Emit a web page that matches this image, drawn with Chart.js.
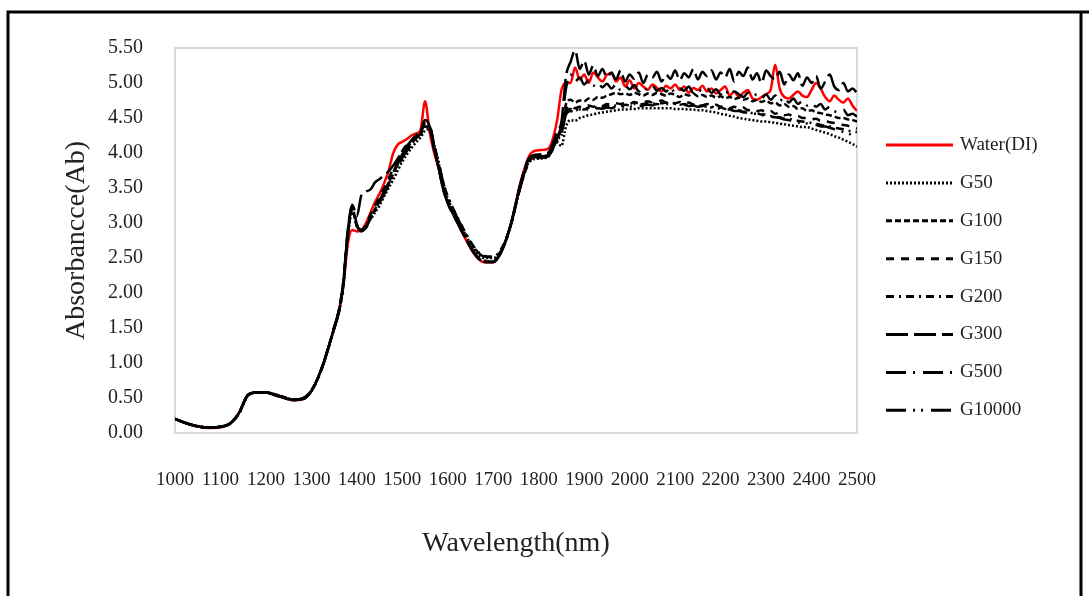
<!DOCTYPE html>
<html>
<head>
<meta charset="utf-8">
<script src="https://cdn.jsdelivr.net/npm/chart.js@4.4.1/dist/chart.umd.min.js"></script>
<style>
html, body { margin: 0; padding: 0; background: #fff; }
#wrap { width: 1089px; height: 596px; }
</style>
</head>
<body>
<div id="wrap"><canvas id="absorbance-chart" width="1089" height="596"></canvas></div>
<script>
// wavelength grid (nm)
const wavelength = [
	1000, 1020, 1040, 1060, 1080, 1100, 1120, 1140, 1160, 1180, 1200, 1220, 1240, 1260, 1280, 1300, 1320, 1340,
	1350, 1360, 1370, 1380, 1390, 1400, 1410, 1420, 1430, 1440, 1450, 1460, 1470, 1480, 1490, 1500, 1510, 1520, 1530, 1540, 1550, 1560, 1570, 1580, 1590, 1600,
	1620, 1640, 1660, 1680, 1700, 1720, 1740, 1760, 1780, 1800, 1820, 1840,
	1850, 1860, 1870, 1880, 1890, 1900, 1910, 1920, 1930, 1940, 1950,
	1960, 1970, 1980, 1990, 2000, 2010, 2020, 2030, 2040, 2050, 2060,
	2070, 2080, 2090, 2100, 2110, 2120, 2130, 2140, 2150, 2160, 2170,
	2180, 2190, 2200, 2210, 2220, 2230, 2240, 2250, 2260, 2270, 2280,
	2290, 2300, 2310, 2320, 2330, 2340, 2350, 2360, 2370, 2380, 2390,
	2400, 2410, 2420, 2430, 2440, 2450, 2460, 2470, 2480, 2490, 2500
];

const water = [
	0.20, 0.15, 0.11, 0.08, 0.07, 0.08, 0.13, 0.28, 0.54, 0.58, 0.58, 0.54, 0.50, 0.47, 0.48, 0.60, 0.88, 1.28,
	1.50, 1.72, 2.08, 2.70, 2.90, 2.88, 2.90, 3.00, 3.15, 3.30, 3.42, 3.57, 3.75, 4.00, 4.12, 4.16, 4.20, 4.25, 4.28, 4.33, 4.74, 4.30, 4.00, 3.78, 3.50, 3.30,
	3.02, 2.76, 2.54, 2.44, 2.44, 2.62, 3.02, 3.58, 3.97, 4.04, 4.06, 4.45,
	4.90, 5.00, 5.00, 5.22, 5.05, 5.12, 5.00, 5.15, 5.08, 5.02, 5.12,
	5.14, 5.02, 5.08, 4.95, 5.04, 4.92, 5.00, 4.95, 4.90, 4.98, 4.93,
	4.88, 4.96, 4.92, 4.98, 4.90, 4.95, 4.86, 4.93, 4.90, 4.96, 4.88,
	4.92, 4.85, 4.90, 4.95, 4.82, 4.88, 4.80, 4.86, 4.90, 4.78, 4.76,
	4.80, 4.84, 4.90, 5.26, 4.92, 4.80, 4.78, 4.83, 4.88, 4.82, 4.80,
	4.90, 5.00, 4.92, 4.80, 4.74, 4.82, 4.76, 4.72, 4.78, 4.68, 4.60
];

const g50 = [
	0.20, 0.15, 0.11, 0.09, 0.08, 0.09, 0.13, 0.27, 0.53, 0.58, 0.58, 0.55, 0.51, 0.48, 0.49, 0.61, 0.88, 1.27,
	1.49, 1.71, 2.10, 2.80, 3.15, 2.98, 2.90, 2.95, 3.05, 3.15, 3.25, 3.38, 3.50, 3.62, 3.75, 3.88, 3.98, 4.07, 4.15, 4.22, 4.32, 4.34, 4.12, 3.85, 3.55, 3.35,
	3.08, 2.82, 2.60, 2.50, 2.50, 2.64, 3.00, 3.52, 3.88, 3.92, 3.94, 4.15,
	4.10, 4.38, 4.47, 4.46, 4.50, 4.52, 4.54, 4.55, 4.57, 4.58, 4.59,
	4.60, 4.61, 4.62, 4.62, 4.63, 4.63, 4.64, 4.64, 4.64, 4.64, 4.64,
	4.64, 4.64, 4.64, 4.63, 4.63, 4.63, 4.62, 4.62, 4.61, 4.61, 4.60,
	4.59, 4.58, 4.56, 4.55, 4.53, 4.52, 4.50, 4.49, 4.48, 4.47, 4.46,
	4.45, 4.45, 4.44, 4.43, 4.42, 4.41, 4.40, 4.39, 4.38, 4.37, 4.37,
	4.35, 4.33, 4.31, 4.29, 4.27, 4.24, 4.22, 4.19, 4.16, 4.13, 4.09
];

const g100 = [
	0.20, 0.15, 0.11, 0.08, 0.08, 0.09, 0.13, 0.27, 0.54, 0.58, 0.58, 0.55, 0.51, 0.47, 0.49, 0.60, 0.87, 1.27,
	1.50, 1.73, 2.12, 2.85, 3.20, 2.95, 2.88, 2.94, 3.08, 3.20, 3.33, 3.45, 3.58, 3.72, 3.86, 3.98, 4.08, 4.15, 4.22, 4.28, 4.38, 4.36, 4.08, 3.80, 3.50, 3.30,
	3.03, 2.78, 2.56, 2.45, 2.45, 2.62, 3.00, 3.55, 3.90, 3.94, 3.96, 4.20,
	4.35, 4.70, 4.76, 4.72, 4.75, 4.74, 4.78, 4.76, 4.80, 4.79, 4.82,
	4.84, 4.86, 4.84, 4.85, 4.83, 4.86, 4.84, 4.82, 4.85, 4.83, 4.86,
	4.84, 4.82, 4.85, 4.83, 4.80, 4.84, 4.82, 4.85, 4.81, 4.83, 4.80,
	4.82, 4.79, 4.81, 4.78, 4.80, 4.77, 4.79, 4.76, 4.78, 4.74, 4.76,
	4.73, 4.75, 4.71, 4.72, 4.68, 4.70, 4.66, 4.67, 4.63, 4.64, 4.60,
	4.61, 4.58, 4.57, 4.55, 4.54, 4.52, 4.50, 4.50, 4.48, 4.47, 4.45
];

const g150 = [
	0.20, 0.15, 0.11, 0.08, 0.08, 0.09, 0.13, 0.28, 0.54, 0.58, 0.58, 0.54, 0.50, 0.47, 0.48, 0.60, 0.88, 1.28,
	1.51, 1.74, 2.14, 2.88, 3.24, 2.98, 2.90, 2.97, 3.12, 3.25, 3.38, 3.50, 3.64, 3.78, 3.92, 4.03, 4.12, 4.18, 4.24, 4.30, 4.42, 4.35, 4.05, 3.78, 3.48, 3.28,
	3.02, 2.77, 2.55, 2.45, 2.45, 2.62, 3.01, 3.56, 3.92, 3.96, 3.98, 4.22,
	4.30, 4.62, 4.68, 4.64, 4.66, 4.65, 4.68, 4.66, 4.69, 4.67, 4.70,
	4.69, 4.71, 4.70, 4.72, 4.70, 4.73, 4.71, 4.72, 4.74, 4.72, 4.73,
	4.75, 4.72, 4.74, 4.71, 4.73, 4.70, 4.72, 4.69, 4.71, 4.68, 4.70,
	4.67, 4.69, 4.66, 4.68, 4.64, 4.66, 4.63, 4.65, 4.61, 4.63, 4.60,
	4.61, 4.58, 4.60, 4.56, 4.58, 4.54, 4.55, 4.52, 4.53, 4.50, 4.50,
	4.48, 4.49, 4.46, 4.46, 4.44, 4.43, 4.42, 4.40, 4.39, 4.37, 4.35
];

const g200 = [
	0.20, 0.15, 0.11, 0.09, 0.08, 0.09, 0.13, 0.27, 0.53, 0.58, 0.58, 0.55, 0.51, 0.48, 0.49, 0.61, 0.87, 1.27,
	1.49, 1.71, 2.10, 2.84, 3.20, 2.96, 2.90, 2.95, 3.07, 3.19, 3.31, 3.43, 3.56, 3.70, 3.84, 3.96, 4.06, 4.13, 4.21, 4.27, 4.36, 4.38, 4.12, 3.86, 3.58, 3.38,
	3.10, 2.85, 2.64, 2.53, 2.52, 2.66, 3.00, 3.52, 3.88, 3.95, 3.97, 4.18,
	4.28, 4.58, 4.63, 4.60, 4.64, 4.62, 4.65, 4.64, 4.66, 4.65, 4.67,
	4.66, 4.68, 4.67, 4.69, 4.68, 4.70, 4.69, 4.70, 4.71, 4.70, 4.72,
	4.71, 4.72, 4.70, 4.71, 4.69, 4.70, 4.68, 4.69, 4.67, 4.68, 4.66,
	4.66, 4.64, 4.65, 4.63, 4.63, 4.61, 4.61, 4.59, 4.59, 4.57, 4.57,
	4.55, 4.55, 4.53, 4.52, 4.51, 4.49, 4.49, 4.47, 4.46, 4.45, 4.44,
	4.43, 4.42, 4.40, 4.39, 4.38, 4.36, 4.35, 4.34, 4.32, 4.31, 4.30
];

const g300 = [
	0.20, 0.15, 0.11, 0.08, 0.08, 0.09, 0.13, 0.28, 0.54, 0.58, 0.58, 0.54, 0.50, 0.47, 0.48, 0.60, 0.88, 1.28,
	1.51, 1.75, 2.15, 2.90, 3.26, 3.10, 3.40, 3.45, 3.48, 3.58, 3.63, 3.68, 3.74, 3.82, 3.92, 4.02, 4.10, 4.18, 4.25, 4.31, 4.47, 4.38, 4.06, 3.78, 3.48, 3.28,
	3.02, 2.77, 2.55, 2.44, 2.44, 2.62, 3.02, 3.57, 3.94, 3.98, 4.00, 4.30,
	4.45, 5.10, 5.30, 5.47, 5.20, 5.32, 5.12, 5.25, 5.10, 5.20, 5.08,
	5.15, 5.05, 5.18, 5.02, 5.12, 5.06, 5.15, 5.00, 5.12, 5.08, 5.16,
	5.02, 5.12, 5.06, 5.18, 5.04, 5.14, 5.08, 5.20, 5.05, 5.16, 5.10,
	5.18, 5.05, 5.15, 5.08, 5.20, 5.02, 5.16, 5.10, 5.22, 5.05, 5.14,
	5.00, 5.18, 5.10, 5.05, 5.16, 4.98, 5.12, 5.04, 5.14, 4.96, 5.08,
	5.00, 5.10, 4.92, 5.02, 5.12, 4.95, 4.90, 5.00, 4.88, 4.92, 4.86
];

const g500 = [
	0.20, 0.15, 0.11, 0.08, 0.08, 0.09, 0.13, 0.27, 0.54, 0.58, 0.58, 0.55, 0.51, 0.47, 0.49, 0.60, 0.87, 1.27,
	1.50, 1.73, 2.12, 2.86, 3.23, 2.97, 2.89, 2.94, 3.07, 3.20, 3.32, 3.45, 3.58, 3.72, 3.86, 3.98, 4.08, 4.14, 4.21, 4.28, 4.42, 4.37, 4.07, 3.79, 3.49, 3.29,
	3.03, 2.78, 2.56, 2.46, 2.46, 2.63, 3.01, 3.55, 3.91, 3.95, 3.97, 4.22,
	4.40, 4.92, 5.12, 5.02, 5.08, 4.98, 5.04, 4.96, 5.01, 4.94, 4.99,
	4.92, 4.98, 4.90, 4.96, 4.91, 4.97, 4.88, 4.94, 4.90, 4.96, 4.89,
	4.93, 4.88, 4.94, 4.86, 4.92, 4.89, 4.95, 4.86, 4.91, 4.88, 4.93,
	4.86, 4.91, 4.84, 4.90, 4.82, 4.88, 4.84, 4.80, 4.86, 4.81, 4.84,
	4.78, 4.84, 4.76, 4.82, 4.74, 4.80, 4.72, 4.78, 4.70, 4.74, 4.68,
	4.72, 4.66, 4.70, 4.62, 4.66, 4.60, 4.58, 4.62, 4.54, 4.56, 4.52
];

const g10000 = [
	0.20, 0.15, 0.11, 0.09, 0.08, 0.09, 0.13, 0.27, 0.53, 0.58, 0.58, 0.55, 0.51, 0.48, 0.49, 0.61, 0.87, 1.27,
	1.49, 1.71, 2.10, 2.83, 3.20, 2.96, 2.89, 2.93, 3.05, 3.17, 3.29, 3.41, 3.54, 3.67, 3.80, 3.93, 4.03, 4.11, 4.19, 4.26, 4.36, 4.38, 4.12, 3.86, 3.58, 3.38,
	3.09, 2.84, 2.63, 2.52, 2.51, 2.65, 3.00, 3.52, 3.88, 3.93, 3.95, 4.16,
	4.25, 4.55, 4.60, 4.58, 4.62, 4.60, 4.63, 4.62, 4.64, 4.63, 4.65,
	4.64, 4.66, 4.65, 4.67, 4.66, 4.68, 4.67, 4.68, 4.69, 4.68, 4.70,
	4.69, 4.70, 4.69, 4.70, 4.68, 4.69, 4.67, 4.68, 4.66, 4.67, 4.65,
	4.65, 4.63, 4.64, 4.62, 4.62, 4.60, 4.60, 4.58, 4.58, 4.56, 4.56,
	4.54, 4.54, 4.52, 4.51, 4.50, 4.48, 4.47, 4.45, 4.44, 4.42, 4.42,
	4.40, 4.40, 4.38, 4.38, 4.36, 4.34, 4.33, 4.30, 4.28, 4.25, 4.22
];

const seriesNames = ["Water(DI)", "G50", "G100", "G150", "G200", "G300", "G500", "G10000"];
const seriesValues = [water, g50, g100, g150, g200, g300, g500, g10000];

// line styles (excel style dashes)
const seriesColors = ['#ff0000', '#000000', '#000000', '#000000', '#000000', '#000000', '#000000', '#000000'];
const seriesDash = [[], [2, 2], [6, 3], [8, 7], [8, 5, 2, 5], [22, 6], [20, 7, 2, 8], [20, 7, 2, 6, 2, 8]];

const serif = '"Liberation Serif", "Times New Roman", serif';
const textColor = '#222222';

// page frame + light grey plot border
const framePlugin = {
	id: 'frame',
	beforeDraw(chart) {
		const c = chart.ctx;
		const a = chart.chartArea;
		c.save();
		c.fillStyle = '#ffffff';
		c.fillRect(0, 0, chart.width, chart.height);
		c.strokeStyle = '#000000';
		c.lineWidth = 3;
		c.beginPath();
		c.moveTo(8, chart.height);
		c.lineTo(8, 12);
		c.lineTo(chart.width, 12);
		c.moveTo(1081, 12);
		c.lineTo(1081, chart.height);
		c.stroke();
		c.strokeStyle = '#d9d9d9';
		c.lineWidth = 2;
		c.strokeRect(a.left, a.top, a.right - a.left, a.bottom - a.top);
		c.restore();
	}
};

// legend with line samples on the right side
const lineLegend = {
	id: 'lineLegend',
	afterDraw(chart) {
		const c = chart.ctx;
		const a = chart.chartArea;
		c.save();
		c.font = '19px ' + serif;
		c.textBaseline = 'middle';
		chart.data.datasets.forEach((ds, i) => {
			const y = 145 + i * 37.9;
			c.strokeStyle = ds.borderColor;
			c.lineWidth = 3;
			c.setLineDash(ds.borderDash);
			c.beginPath();
			c.moveTo(a.right + 29, y);
			c.lineTo(a.right + 96, y);
			c.stroke();
			c.setLineDash([]);
			c.fillStyle = textColor;
			c.fillText(ds.label, a.right + 103, y);
		});
		c.restore();
	}
};

const datasets = seriesNames.map((name, i) => ({
	label: name,
	data: wavelength.map((w, k) => ({ x: w, y: seriesValues[i][k] })),
	borderColor: seriesColors[i],
	borderDash: seriesDash[i],
	borderWidth: 2.5,
	pointRadius: 0,
	cubicInterpolationMode: 'monotone',
	fill: false,
	order: i === 0 ? 1 : 0
}));

new Chart(document.getElementById('absorbance-chart'), {
	type: 'line',
	data: { datasets: datasets },
	options: {
		responsive: false,
		animation: false,
		layout: { padding: { top: 48, right: 232, left: 0, bottom: 0 } },
		plugins: {
			legend: { display: false },
			tooltip: { enabled: false }
		},
		scales: {
			x: {
				type: 'linear',
				min: 1000,
				max: 2500,
				grid: { display: false, drawTicks: false },
				border: { display: false },
				ticks: {
					stepSize: 100,
					autoSkip: false,
					maxRotation: 0,
					padding: 36,
					color: textColor,
					font: { family: serif, size: 19 },
					callback: v => String(v)
				},
				title: {
					display: true,
					text: 'Wavelength(nm)',
					color: textColor,
					font: { family: serif, size: 28 },
					padding: { top: 0, bottom: 36 }
				},
				afterFit: s => { s.height = 163; }
			},
			y: {
				min: 0,
				max: 5.5,
				grid: { display: false, drawTicks: false },
				border: { display: false },
				ticks: {
					stepSize: 0.5,
					padding: 32,
					color: textColor,
					font: { family: serif, size: 20 },
					callback: v => v.toFixed(2)
				},
				title: {
					display: true,
					text: 'Absorbancce(Ab)',
					color: textColor,
					font: { family: serif, size: 28 },
					padding: { top: 60, bottom: 0 }
				},
				afterFit: s => { s.width = 175; }
			}
		}
	},
	plugins: [framePlugin, lineLegend]
});
</script>
</body>
</html>
